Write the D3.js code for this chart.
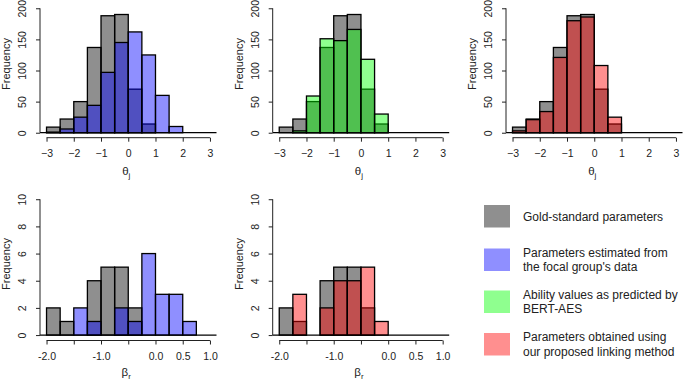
<!DOCTYPE html>
<html>
<head>
<meta charset="utf-8">
<script src="https://cdn.jsdelivr.net/npm/d3@7"></script>
<style>
  body { margin: 0; background: #fff; }
  text { font-family: "Liberation Sans", Arial, sans-serif; fill: #222; }
</style>
</head>
<body>
<svg id="chart" width="685" height="381"></svg>
<script>
// bin edges
var thetaBreaks = [-3, -2.5, -2, -1.5, -1, -0.5, 0, 0.5, 1, 1.5, 2, 2.5, 3];
var betaBreaks = [-2, -1.75, -1.5, -1.25, -1, -0.75, -0.5, -0.25, 0, 0.25, 0.5, 0.75, 1];

// counts per bin (theta_j, ability)
var goldTheta = [9, 22, 50, 137, 188, 190, 70, 14, 0, 0, 0, 0];
var focalTheta = [1, 6, 25, 44, 97, 145, 162, 125, 60, 10, 0, 0];
var bertTheta = [0, 3, 59, 151, 148, 166, 118, 30, 0, 0, 0, 0];
var linkedTheta = [3, 21, 34, 121, 180, 186, 108, 25, 0, 0, 0, 0];

// counts per bin (beta_r, rater severity)
var goldBeta = [2, 1, 0, 4, 5, 5, 2, 0, 0, 0, 0, 0];
var focalBeta = [0, 0, 2, 1, 0, 2, 1, 6, 3, 3, 1, 0];
var linkedBeta = [0, 3, 0, 2, 4, 4, 5, 1, 0, 0, 0, 0];

// axis ticks
var thetaTicks = [-3, -2, -1, 0, 1, 2, 3];
var thetaYTicks = [0, 50, 100, 150, 200];
var betaTicks = [-2, -1.5, -1, -0.5, 0, 0.5, 1];
var betaTickLabels = ["-2.0", "", "-1.0", "", "0.0", "0.5", "1.0"];
var betaYTicks = [0, 2, 4, 6, 8, 10];

var legendLabels = [
  ["Gold-standard parameters"],
  ["Parameters estimated from", "the focal group's data"],
  ["Ability values as predicted by", "BERT-AES"],
  ["Parameters obtained using", "our proposed linking method"]
];

var colors = {
  gold: "rgba(0,0,0,0.44)",
  blue: "rgba(0,0,255,0.44)",
  green: "rgba(0,255,0,0.44)",
  red: "rgba(255,0,0,0.44)"
};
var legendColors = ["#8f8f8f", "#8f8fff", "#8fff8f", "#ff8f8f"];

var svg = d3.select("#chart");

/**
 * Draws one histogram panel
 */
function drawPanel(opt) {
  var g = svg.append("g");
  var x = d3.scaleLinear().domain(opt.xDomain).range([opt.left, opt.left + 176.5]);
  var y = d3.scaleLinear().domain(opt.yDomain).range([opt.bottom, opt.top]);
  var breaks = opt.breaks;

  // zero line across the plot region
  g.append("line")
    .attr("x1", x.range()[0]).attr("x2", x.range()[1])
    .attr("y1", y(0)).attr("y2", y(0))
    .attr("stroke", "#000").attr("stroke-width", 1.2);

  opt.series.forEach(function(s) {
    var bins = s.counts.map(function(c, i) {
      return { x0: breaks[i], x1: breaks[i + 1], n: c };
    }).filter(function(d) { return d.n > 0; });

    g.selectAll(null).data(bins).enter()
      .append("rect")
      .attr("x", function(d) { return x(d.x0); })
      .attr("width", function(d) { return x(d.x1) - x(d.x0); })
      .attr("y", function(d) { return y(d.n); })
      .attr("height", function(d) { return y(0) - y(d.n); })
      .attr("fill", s.color)
      .attr("stroke", "#000")
      .attr("stroke-width", 1.3);
  });

  // x axis
  var xAxis = d3.axisBottom(x)
    .tickValues(opt.xTicks)
    .tickSize(4)
    .tickPadding(8)
    .tickFormat(function(d, i) { return opt.xLabels ? opt.xLabels[i] : d3.format("d")(d); });
  var ax = g.append("g")
    .attr("transform", "translate(0," + opt.bottom + ")")
    .call(xAxis);
  ax.select(".domain").remove();
  ax.append("line")
    .attr("x1", x(opt.xTicks[0])).attr("x2", x(opt.xTicks[opt.xTicks.length - 1]))
    .attr("stroke", "#222");
  ax.selectAll(".tick line").attr("stroke", "#222");
  ax.selectAll("text").style("font-size", "10.5px").attr("fill", "#222");

  // y axis, labels parallel to the axis
  var yAxis = d3.axisLeft(y).tickValues(opt.yTicks).tickSize(4);
  var ay = g.append("g")
    .attr("transform", "translate(" + opt.left + ",0)")
    .call(yAxis);
  ay.select(".domain").remove();
  ay.append("line")
    .attr("y1", y(opt.yTicks[0])).attr("y2", y(opt.yTicks[opt.yTicks.length - 1]))
    .attr("stroke", "#222");
  ay.selectAll(".tick line").attr("stroke", "#222");
  ay.selectAll(".tick text")
    .attr("x", 0).attr("dy", 0)
    .attr("text-anchor", "middle")
    .attr("transform", "translate(-14,0) rotate(-90)")
    .style("font-size", "10.5px").attr("fill", "#222");

  g.append("text")
    .attr("transform", "translate(" + (opt.left - 30) + "," + opt.freqY + ") rotate(-90)")
    .attr("text-anchor", "middle")
    .style("font-size", "11px")
    .text("Frequency");

  var lab = g.append("text")
    .attr("x", x((opt.xTicks[0] + opt.xTicks[opt.xTicks.length - 1]) / 2) - 2)
    .attr("y", opt.labelY)
    .attr("text-anchor", "middle")
    .style("font-size", "11.5px");
  lab.append("tspan").text(opt.symbol);
  lab.append("tspan").attr("dy", 3).style("font-size", "8px").text(opt.sub);
}

var topRow = { top: 3.3, bottom: 137.7, freqY: 64, labelY: 175, xDomain: [-3.24, 3.24], yDomain: [-8, 208],
  breaks: thetaBreaks, xTicks: thetaTicks, yTicks: thetaYTicks, symbol: "θ", sub: "j" };
var bottomRow = { top: 193.8, bottom: 340.5, freqY: 264, labelY: 376, xDomain: [-2.12, 1.12], yDomain: [-0.4, 10.4],
  breaks: betaBreaks, xTicks: betaTicks, xLabels: betaTickLabels, yTicks: betaYTicks, symbol: "β", sub: "r" };

var panels = [
  [topRow, 40, [{ counts: goldTheta, color: colors.gold }, { counts: focalTheta, color: colors.blue }]],
  [topRow, 272.7, [{ counts: goldTheta, color: colors.gold }, { counts: bertTheta, color: colors.green }]],
  [topRow, 506, [{ counts: goldTheta, color: colors.gold }, { counts: linkedTheta, color: colors.red }]],
  [bottomRow, 40, [{ counts: goldBeta, color: colors.gold }, { counts: focalBeta, color: colors.blue }]],
  [bottomRow, 272.7, [{ counts: goldBeta, color: colors.gold }, { counts: linkedBeta, color: colors.red }]]
];

panels.forEach(function(p) {
  drawPanel(Object.assign({}, p[0], { left: p[1], series: p[2] }));
});

// legend
var legendTop = [205, 248.5, 290.5, 333];
var leg = svg.append("g");
legendLabels.forEach(function(lines, i) {
  leg.append("rect")
    .attr("x", 484).attr("y", legendTop[i])
    .attr("width", 26).attr("height", 22.5)
    .attr("fill", legendColors[i]);
  var t = leg.append("text")
    .attr("x", 523)
    .attr("y", legendTop[i] + (lines.length === 1 ? 15.5 : 8))
    .style("font-size", "12px")
    .attr("fill", "#111");
  lines.forEach(function(l, j) {
    t.append("tspan").attr("x", 523).attr("dy", j === 0 ? 0 : 14.5).text(l);
  });
});
</script>
</body>
</html>
